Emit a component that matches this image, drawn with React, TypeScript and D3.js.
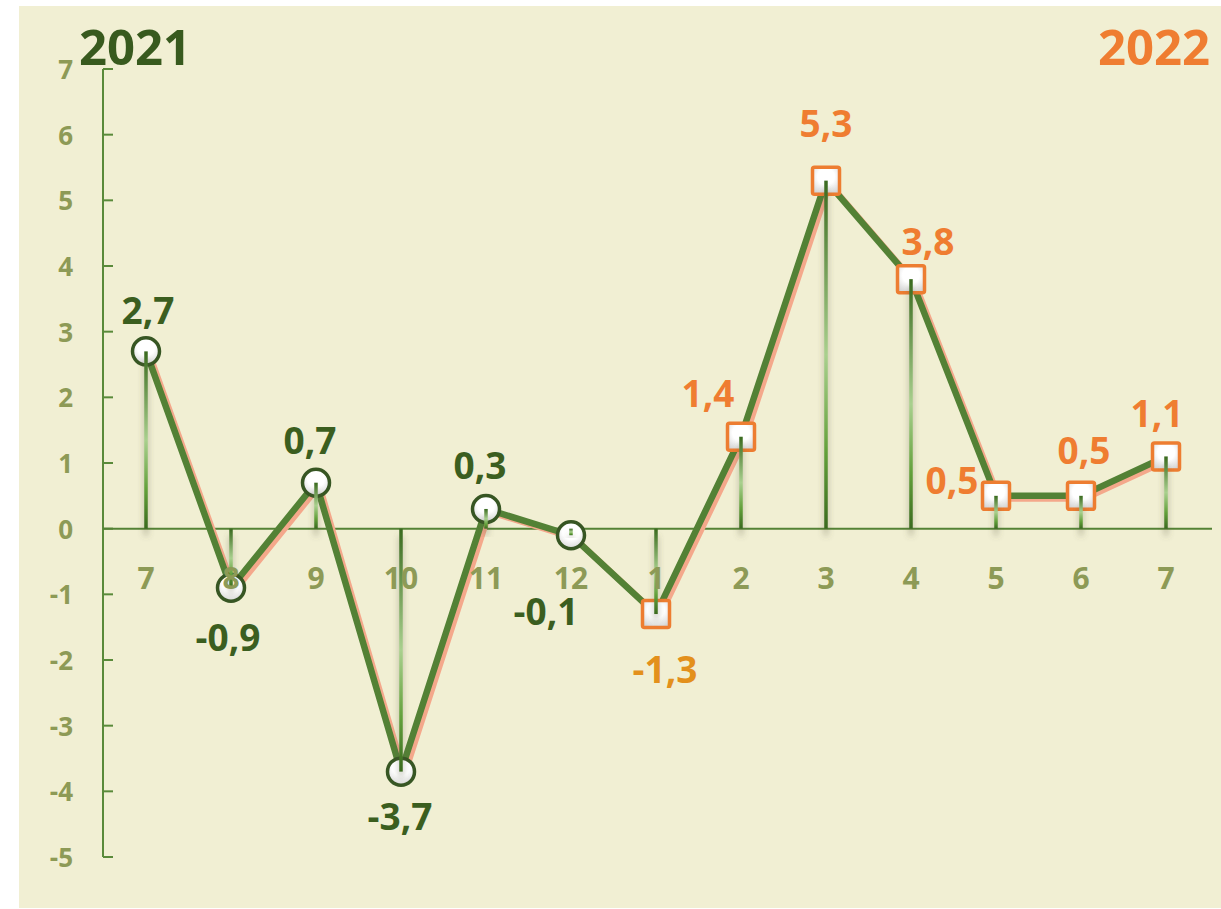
import * as d3 from 'd3';

// months: 7/2021 .. 7/2022
const months = ['7', '8', '9', '10', '11', '12', '1', '2', '3', '4', '5', '6', '7'];
const years = [2021, 2021, 2021, 2021, 2021, 2021, 2022, 2022, 2022, 2022, 2022, 2022, 2022];
const values = [2.7, -0.9, 0.7, -3.7, 0.3, -0.1, -1.3, 1.4, 5.3, 3.8, 0.5, 0.5, 1.1];
const yTicks = [7, 6, 5, 4, 3, 2, 1, 0, -1, -2, -3, -4, -5];

// label offsets from the point (px)
const labelDx = [2, -3, -6, -1, -6, -25, 9, -33, 0, 17, -44, 3, -9];
const labelDy = [-42, 49, -43, 44, -44, 75, 54, -44, -58, -39, -16, -46, -44];

const W = 1221;
const H = 909;

const fmt = (v: number) => String(v).replace('.', ',');

export default function App() {
	const x = d3
		.scaleBand<number>()
		.domain(months.map((_, i) => i))
		.range([103.5, 1208.5]);
	const y = d3.scaleLinear().domain([-5, 7]).range([857, 69]);
	const cx = (i: number) => x(i)! + x.bandwidth() / 2;

	const line = d3
		.line<number>()
		.x((_, i) => cx(i))
		.y((d) => y(d));

	const font = "'Open Sans', 'DejaVu Sans', sans-serif";

	return (
		<svg width={W} height={H} style={{ position: 'absolute', left: 0, top: 0 }} fontFamily={font}>
			<defs>
				<linearGradient id="dropGrad" x1="0" y1="0" x2="0" y2="1">
					<stop offset="0" stopColor="#3a6a1f" />
					<stop offset="0.5" stopColor="#a9d08e" />
					<stop offset="0.78" stopColor="#62a03a" />
					<stop offset="1" stopColor="#3a6a1f" />
				</linearGradient>
				<radialGradient id="dotGrad" cx="0.5" cy="0.35" r="0.7">
					<stop offset="0.45" stopColor="#ffffff" />
					<stop offset="1" stopColor="#d2d2d2" />
				</radialGradient>
				<filter id="dropShadow" x="-300%" y="-20%" width="700%" height="160%">
					<feDropShadow dx="0" dy="7" stdDeviation="3" floodColor="#5a5a40" floodOpacity="0.45" />
				</filter>
			</defs>

			<rect x={19} y={6} width={W - 19} height={902} fill="#f1efd3" />

			{/* y axis */}
			<line x1={103} x2={103} y1={y(7)} y2={y(-5)} stroke="#5a8a3a" strokeWidth={2} />
			{yTicks.map((t) => (
				<g key={t}>
					<line x1={103} x2={113} y1={y(t)} y2={y(t)} stroke="#5a8a3a" strokeWidth={2} />
					<text
						x={73}
						y={y(t)}
						textAnchor="end"
						dominantBaseline="central"
						fontSize={26}
						fontWeight={700}
						fill="#8d9a56"
					>
						{t}
					</text>
				</g>
			))}

			{/* zero line */}
			<line x1={103} x2={1212} y1={y(0)} y2={y(0)} stroke="#548235" strokeWidth={2} />

			{/* series line + shadow */}
			<path d={line(values)!} transform="translate(3.5,3)" fill="none" stroke="#f4a88b" strokeWidth={6} strokeLinejoin="round" />
			<path d={line(values)!} fill="none" stroke="#538135" strokeWidth={6.5} strokeLinejoin="round" />

			{/* markers */}
			{values.map((v, i) =>
				years[i] === 2021 ? (
					<circle key={i} cx={cx(i)} cy={y(v)} r={13.5} fill="url(#dotGrad)" stroke="#375623" strokeWidth={3.5} />
				) : (
					<rect
						key={i}
						x={cx(i) - 13.5}
						y={y(v) - 13.5}
						width={27}
						height={27}
						rx={2}
						fill="url(#dotGrad)"
						stroke="#ed7d31"
						strokeWidth={3.5}
					/>
				)
			)}

			{/* drop lines */}
			{values.map((v, i) => (
				<rect
					key={i}
					x={cx(i) - 1.75}
					y={Math.min(y(v), y(0))}
					width={3.5}
					height={Math.abs(y(v) - y(0))}
					fill="url(#dropGrad)"
					filter="url(#dropShadow)"
				/>
			))}

			{/* x labels */}
			{months.map((m, i) => (
				<text
					key={i}
					x={cx(i)}
					y={577}
					textAnchor="middle"
					dominantBaseline="central"
					fontSize={30}
					fontWeight={700}
					fill="#8d9a56"
				>
					{m}
				</text>
			))}

			{/* data labels */}
			{values.map((v, i) => (
				<text
					key={i}
					x={cx(i) + labelDx[i]}
					y={y(v) + labelDy[i]}
					textAnchor="middle"
					dominantBaseline="central"
					fontSize={37}
					fontWeight={700}
					fill={years[i] === 2021 ? '#3b5e1f' : v < 0 ? '#e3901c' : '#ef7d31'}
				>
					{fmt(v)}
				</text>
			))}

			{/* year titles */}
			<text x={79} y={65} fontSize={49} fontWeight={700} fill="#385a1e">
				2021
			</text>
			<text x={1210} y={65} textAnchor="end" fontSize={49} fontWeight={700} fill="#ef7d31">
				2022
			</text>
		</svg>
	);
}
